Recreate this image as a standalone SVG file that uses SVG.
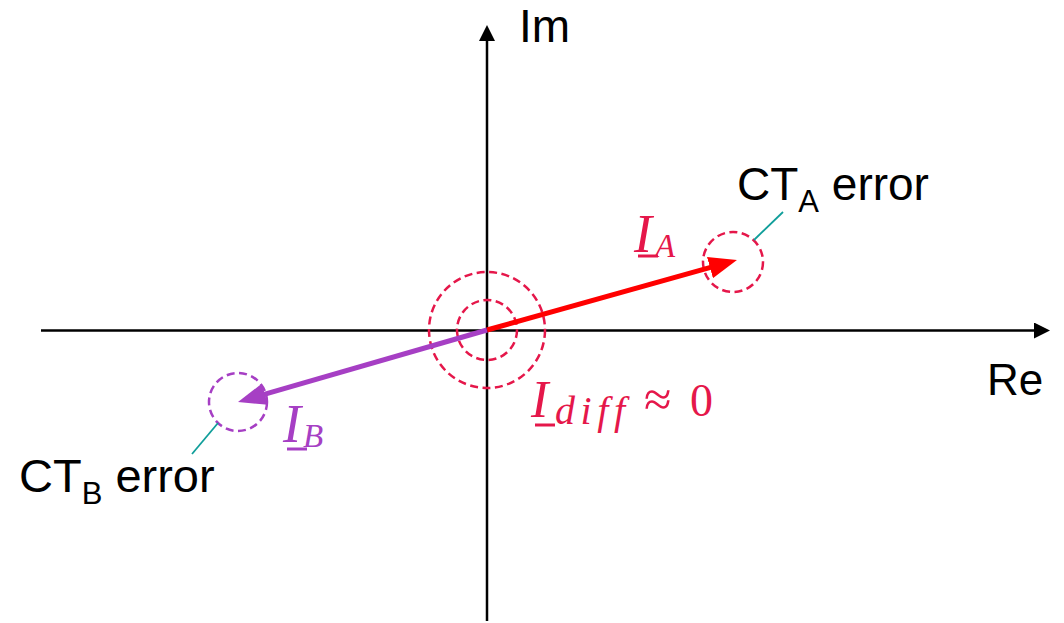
<svg xmlns="http://www.w3.org/2000/svg" width="1064" height="623" viewBox="0 0 1064 623">
<style>
.axis{stroke:#000;stroke-width:2.5;fill:none}
.dash{fill:none;stroke-width:2.5;stroke-dasharray:8 4.5}
.crim{stroke:#E5174A}
.purp{stroke:#A63FC4}
.lead{stroke:#109E9A;stroke-width:1.8}
.lbl{font-family:"Liberation Sans",Arial,sans-serif;fill:#000}
.math{font-family:"Liberation Serif","Times New Roman",serif;font-style:italic}
.up{font-family:"Liberation Serif","Times New Roman",serif}
</style>
<defs>
<marker id="axArrow" markerUnits="userSpaceOnUse" markerWidth="18" markerHeight="16" refX="2" refY="8" orient="auto">
<path d="M0,0 L16,8 L0,16 z" fill="#000"/>
</marker>
<marker id="redArrow" markerUnits="userSpaceOnUse" markerWidth="30" markerHeight="22" refX="8" refY="11" orient="auto">
<path d="M0,0 L28,11 L0,22 z" fill="#FF0000"/>
</marker>
<marker id="purpArrow" markerUnits="userSpaceOnUse" markerWidth="30" markerHeight="22" refX="8" refY="11" orient="auto">
<path d="M0,0 L28,11 L0,22 z" fill="#A63FC4"/>
</marker>
</defs>

<g id="axes">
<line class="axis" x1="41" y1="330.5" x2="1036" y2="330.5" marker-end="url(#axArrow)"/>
<line class="axis" x1="487" y1="621" x2="487" y2="39" marker-end="url(#axArrow)"/>
<text class="lbl" x="519" y="42" font-size="46">Im</text>
<text class="lbl" x="987" y="395" font-size="44">Re</text>
</g>

<g id="origin-circles">
<circle class="dash crim" cx="487" cy="330" r="30"/>
<circle class="dash crim" cx="487" cy="330" r="58"/>
</g>

<g id="circle-A">
<circle class="dash crim" cx="733" cy="262" r="30"/>
</g>
<g id="circle-B">
<circle class="dash purp" cx="238" cy="402" r="29"/>
</g>

<g id="connectors">
<line x1="487" y1="330" x2="717.7" y2="265.4" stroke="#FF0000" stroke-width="5" marker-end="url(#redArrow)"/>
<line x1="487" y1="330" x2="257.2" y2="396.4" stroke="#A63FC4" stroke-width="5" marker-end="url(#purpArrow)"/>
<line class="lead" x1="754" y1="240" x2="783" y2="212"/>
<line class="lead" x1="218" y1="423" x2="192" y2="454"/>
</g>

<g id="label-CTA">
<text class="lbl" x="737" y="200" font-size="46">CT<tspan dy="12" font-size="31">A</tspan><tspan dy="-12"> error</tspan></text>
</g>
<g id="label-CTB">
<text class="lbl" x="19" y="492" font-size="47">CT<tspan dy="12" font-size="31">B</tspan><tspan dy="-12"> error</tspan></text>
</g>

<g id="label-IA" fill="#E5174A">
<text class="math" x="634" y="252" font-size="54">I</text>
<text class="math" x="655" y="257" font-size="33">A</text>
<line x1="638" y1="256" x2="658" y2="256" stroke="#E5174A" stroke-width="3"/>
</g>

<g id="label-IB" fill="#A63FC4">
<text class="math" x="283" y="442" font-size="54">I</text>
<text class="math" x="303" y="447" font-size="33">B</text>
<line x1="287" y1="449" x2="307" y2="449" stroke="#A63FC4" stroke-width="3"/>
</g>

<g id="label-Idiff" fill="#E5174A">
<text class="math" x="531" y="417" font-size="52">I</text>
<text class="math" x="555" y="424" font-size="40" textLength="70" lengthAdjust="spacing">diff</text>
<line x1="535" y1="425" x2="555" y2="425" stroke="#E5174A" stroke-width="3"/>
<text class="up" x="644" y="416" font-size="50">≈</text>
<text class="up" x="690" y="416" font-size="46">0</text>
</g>
</svg>
